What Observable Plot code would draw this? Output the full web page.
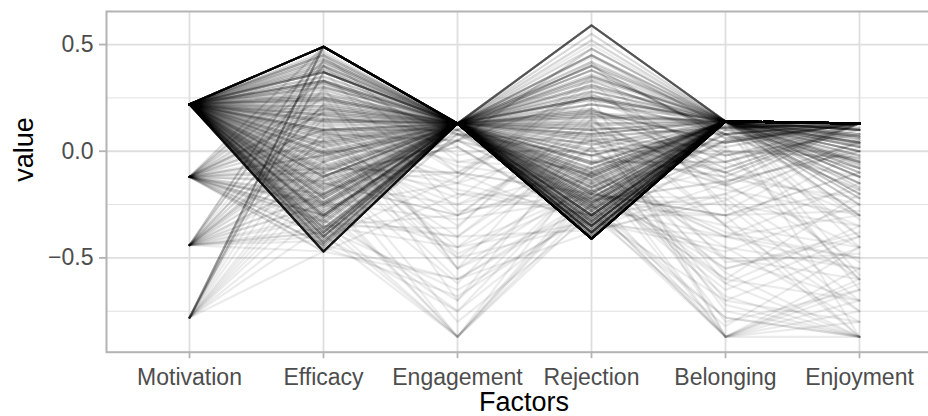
<!DOCTYPE html>
<html>
<head>
<meta charset="utf-8">
<script src="https://cdn.jsdelivr.net/npm/d3@7"></script>
<script src="https://cdn.jsdelivr.net/npm/@observablehq/plot@0.6"></script>
<style>
  html, body { margin: 0; padding: 0; background: #fff; overflow: hidden; }
  #chart svg { overflow: hidden; display: block; }
</style>
</head>
<body>
<div id="chart"></div>
<script>
const factors = ["Motivation", "Efficacy", "Engagement", "Rejection", "Belonging", "Enjoyment"];
const yTicks = [-0.5, 0, 0.5];
const yMinor = [-0.75, -0.25, 0.25];

// one entry per response profile (blocks of ten)
const motivation = [
  0.22,0.22,0.22,0.22,0.22,0.22,0.22,0.22,-0.78,-0.78,
  0.22,0.22,0.22,0.22,0.22,0.22,0.22,0.22,0.22,0.22,
  0.22,0.22,0.22,0.22,0.22,0.22,0.22,0.22,0.22,0.22,
  0.22,0.22,0.22,0.22,0.22,0.22,0.22,0.22,0.22,0.22,
  0.22,0.22,0.22,0.22,0.22,0.22,0.22,0.22,0.22,0.22,
  0.22,0.22,0.22,0.22,0.22,0.22,0.22,0.22,0.22,0.22,
  0.22,0.22,0.22,0.22,0.22,0.22,0.22,0.22,0.22,0.22,
  -0.12,-0.12,-0.12,-0.12,-0.12,-0.12,-0.12,-0.12,-0.12,-0.12,
  -0.12,-0.12,-0.12,-0.12,-0.12,-0.12,-0.12,-0.12,-0.12,-0.12,
  -0.44,-0.44,-0.44,-0.44,-0.44,-0.44,-0.44,-0.44,-0.44,-0.44,
  -0.78,-0.78,-0.78,-0.78,-0.78,-0.78,-0.78,-0.78,-0.78,-0.78,
  0.22,0.22,0.22,0.22,0.22,0.22,0.22,0.22,0.22,0.22,
  0.22,0.22,0.22,0.22,0.22,0.22,0.22,0.22,0.22,0.22,
  0.22,0.22,0.22,0.22,0.22,0.22,0.22,0.22,0.22,0.22,
  -0.12,-0.12,-0.44,-0.44,-0.78,-0.12,-0.44,-0.78,-0.12,-0.44,
  0.22,0.22,0.22,-0.12,0.22,-0.44,0.22,-0.12,0.22,-0.78,
  0.22,0.22,0.22,0.22,0.22,0.22,0.22,0.22,0.22,0.22,
  0.22,0.22,0.22,0.22,0.22,0.22,0.22,0.22,0.22,0.22,
  -0.12,-0.12,-0.12,-0.12,-0.12,-0.12,-0.12,-0.12,-0.12,-0.12,
  -0.44,-0.44,-0.44,-0.44,-0.44,-0.44,-0.44,-0.44,-0.44,-0.44,
  0.22,0.22,0.22,0.22,0.22,0.22,0.22,0.22,0.22,0.22,
  0.22,-0.12,0.22,-0.44,0.22,-0.78,0.22,0.22,-0.12,0.22,
  0.22,0.22,0.22,0.22,0.22,0.22,0.22,0.22,0.22,0.22
];
const efficacy = [
  0.49,-0.47,0.49,-0.47,0.37,0.33,0.10,-0.40,0.49,0.37,
  0.43,0.27,0.21,0.15,0.03,-0.08,-0.18,-0.26,-0.34,-0.42,
  0.46,0.40,0.30,0.24,0.18,0.06,-0.03,-0.13,-0.22,-0.30,
  0.35,0.12,-0.05,-0.16,-0.24,-0.32,-0.38,-0.44,0.20,0.00,
  0.29,0.17,0.08,-0.01,-0.11,-0.20,-0.28,-0.36,0.41,-0.45,
  0.33,0.21,0.09,-0.06,-0.15,-0.24,-0.33,-0.41,0.45,0.02,
  0.15,-0.10,-0.29,-0.39,0.05,-0.20,0.26,-0.45,-0.35,0.38,
  0.49,0.20,0.05,-0.10,-0.20,-0.30,-0.40,-0.47,0.33,-0.25,
  0.12,-0.05,-0.15,-0.35,-0.44,0.28,-0.22,0.00,-0.32,0.40,
  0.49,0.15,-0.05,-0.25,-0.38,-0.47,0.00,-0.15,0.30,-0.32,
  0.49,0.43,0.37,0.20,0.00,-0.20,-0.35,-0.47,0.10,-0.10,
  0.44,0.31,0.23,0.13,0.04,-0.07,-0.14,-0.21,-0.31,-0.43,
  0.39,0.26,0.16,0.07,-0.02,-0.12,-0.19,-0.27,-0.37,-0.46,
  0.47,0.34,0.19,0.01,-0.17,-0.23,-0.37,-0.43,0.25,-0.09,
  0.37,-0.02,0.22,-0.20,0.30,-0.38,0.05,-0.28,0.15,0.40,
  -0.12,0.08,-0.30,0.18,-0.41,0.02,0.35,-0.26,-0.05,-0.15,
  0.28,0.11,-0.04,-0.18,-0.33,0.45,-0.24,0.06,-0.40,0.32,
  0.38,0.24,0.14,0.02,-0.09,-0.17,-0.25,-0.31,-0.36,-0.43,
  0.42,0.25,0.10,-0.02,-0.14,-0.24,-0.33,-0.44,0.18,-0.08,
  0.40,0.22,0.08,-0.12,-0.20,-0.30,-0.42,0.49,0.05,-0.36,
  0.30,0.19,0.04,-0.10,-0.21,-0.29,-0.39,0.42,-0.04,0.14,
  0.00,-0.30,0.22,-0.40,-0.15,-0.05,0.40,-0.35,0.10,-0.25,
  0.45,0.32,0.25,0.17,0.09,-0.01,-0.12,-0.22,-0.30,-0.38
];
const engagement = [
  0.13,0.13,0.13,0.13,0.13,0.13,0.13,0.13,0.13,0.13,
  0.13,0.13,0.13,0.13,0.13,0.13,0.13,0.13,0.13,0.13,
  0.13,0.13,0.13,0.13,0.13,0.13,0.13,0.13,0.13,0.13,
  0.13,0.13,0.13,0.13,0.13,0.13,0.13,0.13,0.13,0.13,
  0.10,0.08,0.05,0.10,0.02,0.08,0.05,0.10,0.13,0.13,
  -0.02,-0.07,-0.12,-0.18,-0.25,-0.32,-0.40,-0.12,-0.05,-0.22,
  -0.50,-0.62,-0.75,-0.87,-0.45,-0.87,-0.55,-0.68,-0.36,-0.28,
  0.13,0.13,0.13,0.13,0.13,0.13,0.13,0.13,0.08,0.05,
  -0.05,-0.15,-0.30,-0.45,-0.60,-0.10,-0.87,-0.25,-0.70,0.02,
  0.13,0.13,0.13,0.13,0.13,-0.20,-0.40,-0.10,-0.55,-0.87,
  0.13,0.13,0.13,0.13,0.13,0.13,-0.30,-0.60,-0.15,-0.87,
  0.13,0.13,0.13,0.13,0.13,0.13,0.13,0.13,0.13,0.13,
  0.13,0.13,0.13,0.13,0.13,0.13,0.13,0.13,0.13,0.13,
  0.13,0.13,0.13,0.13,0.13,0.13,0.13,0.13,0.13,0.13,
  0.13,0.13,0.13,0.13,0.13,0.13,0.13,0.13,0.13,0.13,
  0.13,-0.35,0.13,-0.70,0.13,-0.48,0.13,-0.15,-0.80,0.13,
  0.13,0.13,0.13,0.13,0.13,0.13,0.13,0.13,0.13,0.13,
  0.13,0.13,0.13,0.13,0.13,0.13,0.13,0.13,0.13,0.13,
  0.13,0.13,0.10,0.13,0.05,0.13,0.13,0.08,0.13,-0.10,
  0.13,0.13,0.13,0.13,0.13,0.13,0.13,0.13,-0.30,-0.65,
  0.13,0.13,0.13,0.13,0.13,0.13,0.13,0.13,0.13,0.13,
  -0.60,-0.40,-0.20,-0.75,-0.30,-0.50,-0.10,-0.87,-0.55,-0.45,
  0.13,0.13,0.13,0.13,0.13,0.13,0.13,0.13,0.13,0.13
];
const rejection = [
  -0.41,-0.41,0.59,0.59,-0.35,-0.30,-0.38,-0.41,-0.41,-0.30,
  0.45,0.25,0.07,-0.17,-0.27,0.38,-0.11,0.13,-0.32,-0.22,
  0.52,0.31,0.19,0.01,-0.05,-0.22,-0.36,0.45,-0.14,-0.27,
  0.38,-0.30,0.25,0.31,-0.38,0.10,-0.20,-0.08,-0.33,0.19,
  0.22,-0.02,-0.25,0.41,-0.35,0.04,-0.11,-0.19,0.28,0.16,
  0.10,-0.15,0.28,-0.30,0.05,-0.22,-0.37,0.35,-0.08,0.20,
  -0.10,0.02,-0.25,-0.15,-0.33,-0.05,0.15,-0.28,0.24,-0.20,
  0.35,-0.20,-0.35,0.12,-0.41,0.22,-0.28,0.00,-0.12,0.48,
  0.05,-0.30,0.15,-0.18,-0.38,0.30,-0.25,-0.08,0.10,-0.33,
  -0.30,0.18,-0.38,0.40,-0.10,-0.22,0.02,-0.35,-0.15,-0.28,
  0.25,-0.38,0.10,-0.20,0.40,-0.30,-0.12,-0.25,0.05,-0.20,
  0.55,0.48,0.34,0.27,0.16,0.08,-0.02,-0.09,-0.16,-0.24,
  -0.39,-0.34,-0.29,-0.25,-0.21,-0.18,-0.13,-0.40,-0.37,-0.33,
  0.20,-0.05,0.42,-0.26,0.12,-0.36,0.30,-0.14,-0.21,0.00,
  -0.40,0.28,-0.05,-0.31,0.15,0.50,-0.19,0.36,-0.24,0.08,
  -0.03,0.18,-0.32,-0.10,0.26,-0.20,-0.12,0.33,-0.30,-0.36,
  0.05,-0.28,0.36,-0.12,0.22,-0.38,0.10,-0.20,0.44,-0.05,
  0.03,-0.12,0.33,-0.23,0.17,-0.31,0.40,-0.06,0.24,-0.17,
  -0.15,0.42,-0.32,0.06,0.26,-0.39,0.14,-0.24,-0.06,-0.20,
  0.30,-0.25,0.08,-0.41,0.45,-0.15,0.20,-0.36,-0.10,-0.30,
  -0.26,0.05,-0.34,0.18,-0.14,0.35,-0.23,-0.08,0.11,-0.37,
  -0.22,0.08,-0.30,-0.10,0.12,-0.34,0.20,-0.18,-0.26,0.02,
  -0.28,-0.38,-0.19,-0.33,-0.24,-0.40,-0.10,-0.35,-0.02,-0.26
];
const belonging = [
  0.14,0.14,0.14,0.14,0.14,0.14,0.14,0.14,0.14,0.14,
  0.14,0.14,0.11,0.14,0.14,0.08,0.14,0.14,0.14,0.14,
  0.14,0.14,0.04,0.14,-0.05,0.14,0.14,0.11,0.14,0.00,
  0.14,0.14,0.08,0.14,0.14,-0.10,0.14,0.14,0.14,0.04,
  0.14,0.11,0.14,0.14,0.14,-0.16,0.14,0.08,0.14,0.14,
  0.14,-0.05,0.14,-0.30,0.08,0.14,-0.23,0.14,0.14,-0.10,
  -0.38,-0.57,-0.87,-0.68,-0.47,-0.87,-0.16,-0.78,0.00,-0.30,
  0.14,0.14,0.14,0.14,0.14,0.11,0.14,0.04,0.14,0.14,
  -0.10,0.14,-0.35,-0.60,-0.20,0.08,-0.87,-0.45,-0.75,0.14,
  0.14,0.14,0.14,0.14,0.14,-0.25,-0.50,0.00,-0.65,-0.87,
  0.14,0.14,0.14,0.14,0.14,0.14,-0.40,-0.78,-0.10,-0.87,
  0.14,0.14,0.14,-0.02,0.14,0.14,-0.12,0.14,0.14,0.08,
  0.14,0.14,0.14,0.14,0.05,0.14,0.14,0.14,0.14,0.14,
  -0.05,-0.18,-0.28,-0.40,-0.52,0.02,-0.13,-0.62,-0.22,-0.34,
  0.14,0.14,0.14,0.14,0.14,0.14,0.04,0.14,-0.08,0.14,
  -0.72,-0.87,-0.45,-0.55,-0.87,-0.35,-0.60,-0.25,-0.82,-0.15,
  0.14,0.14,0.14,0.14,0.14,0.14,0.14,0.14,0.14,0.14,
  0.14,0.14,0.10,0.14,0.14,0.14,0.06,0.14,0.14,0.12,
  0.14,0.14,0.14,0.02,0.14,0.14,-0.15,0.14,0.14,-0.30,
  0.14,0.14,0.14,0.14,0.14,0.14,-0.05,0.14,-0.40,-0.70,
  0.05,-0.02,0.10,-0.08,0.14,0.14,-0.14,0.14,0.08,0.14,
  -0.50,-0.70,-0.20,-0.87,-0.62,-0.40,-0.35,-0.55,-0.30,-0.80,
  0.14,0.14,0.14,0.14,0.14,0.14,0.14,0.14,0.14,0.14
];
const enjoyment = [
  0.13,0.13,0.13,0.13,0.13,0.13,0.13,0.13,0.13,0.13,
  0.13,0.10,0.13,0.07,0.13,0.13,0.04,0.13,0.00,0.13,
  0.13,0.02,0.13,-0.05,0.10,0.13,-0.12,0.13,0.07,-0.03,
  0.13,0.13,-0.08,0.04,-0.17,0.13,0.00,0.10,0.13,0.13,
  0.07,0.13,0.13,-0.20,0.13,0.04,-0.07,0.13,0.13,-0.10,
  -0.15,0.13,0.02,-0.28,-0.40,0.13,0.06,-0.22,0.10,-0.35,
  -0.50,-0.87,-0.62,-0.87,-0.25,-0.75,-0.45,-0.87,-0.60,-0.18,
  0.13,0.13,0.04,0.13,0.00,0.13,-0.10,0.13,0.10,0.13,
  0.13,-0.30,-0.45,-0.70,0.02,-0.15,-0.80,-0.55,-0.87,-0.05,
  0.13,0.13,0.13,0.04,-0.05,-0.35,-0.60,-0.12,-0.40,-0.87,
  0.13,0.13,0.10,0.13,0.13,0.02,-0.50,-0.87,-0.25,-0.70,
  0.13,0.05,0.13,0.13,-0.02,0.13,0.13,-0.08,0.13,0.13,
  0.13,0.13,0.06,0.13,0.13,-0.04,0.13,0.13,0.10,0.13,
  0.13,-0.30,0.05,-0.15,-0.48,-0.60,-0.22,-0.35,-0.70,0.00,
  0.13,0.13,-0.03,0.13,0.08,0.13,0.13,-0.12,0.13,0.13,
  -0.87,-0.55,-0.80,-0.38,-0.65,-0.87,-0.20,-0.75,-0.45,-0.52,
  -0.20,-0.32,-0.45,-0.12,-0.58,-0.25,-0.40,-0.87,-0.15,-0.65,
  0.13,0.08,0.13,0.13,0.03,0.13,0.13,-0.06,0.13,0.11,
  0.13,-0.02,0.13,0.13,-0.15,0.13,0.13,0.06,-0.25,-0.10,
  0.13,0.02,0.13,0.13,-0.20,0.13,-0.30,0.10,-0.55,-0.80,
  0.13,0.08,-0.05,0.13,-0.12,-0.22,0.00,-0.30,-0.18,-0.08,
  -0.70,-0.45,-0.60,-0.60,-0.87,-0.30,-0.75,-0.40,-0.87,-0.65,
  0.13,0.13,0.13,0.13,0.13,0.13,0.13,0.13,0.13,0.13
];
// number of respondents sharing each profile
const counts = [
  30,22,10,3,8,6,6,6,3,2,
  3,3,3,3,3,3,3,3,3,3,
  2,2,2,2,2,2,2,2,2,2,
  2,2,2,2,2,2,2,2,2,2,
  2,2,2,2,2,2,2,2,2,2,
  1,1,1,1,1,1,1,1,1,1,
  1,1,1,1,1,1,1,1,1,1,
  2,2,2,2,2,2,2,2,2,2,
  1,1,1,1,1,1,1,1,1,1,
  2,2,2,2,2,1,1,1,1,1,
  3,2,2,1,1,1,1,1,1,1,
  2,2,2,2,2,2,2,2,2,2,
  2,2,2,2,2,2,2,2,2,2,
  1,1,1,1,1,1,1,1,1,1,
  1,1,1,1,1,1,1,1,1,1,
  1,1,1,1,1,1,1,1,1,1,
  1,1,1,1,1,1,1,1,1,1,
  3,3,3,3,3,3,3,3,3,3,
  2,2,2,2,2,2,2,2,2,2,
  2,2,2,2,1,1,1,1,1,1,
  2,2,2,2,2,2,2,2,2,2,
  1,1,1,1,1,1,1,1,1,1,
  3,3,3,3,3,3,3,3,3,3
];

const columns = [motivation, efficacy, engagement, rejection, belonging, enjoyment];
const long = [];
counts.forEach((n, i) => {
  for (let k = 0; k < n; k++) {
    factors.forEach((f, j) => long.push({id: i + "-" + k, factor: f, value: columns[j][i]}));
  }
});

const fmt = d3.format(".1f");
const font = "'Liberation Sans', Arial, Helvetica, sans-serif";

const chart = Plot.plot({
  width: 928,
  height: 416,
  marginLeft: 106,
  marginRight: -13,
  marginTop: 11,
  marginBottom: 64.3,
  style: {fontFamily: font, background: "#fff", overflow: "hidden"},
  x: {type: "point", domain: factors, padding: 0.6, label: null},
  y: {domain: [-0.942, 0.655], label: null},
  marks: [
    Plot.gridY(yMinor, {stroke: "#dedede", strokeWidth: 0.9, strokeOpacity: 1}),
    Plot.gridY(yTicks, {stroke: "#dedede", strokeWidth: 1.8, strokeOpacity: 1}),
    Plot.gridX(factors, {stroke: "#dedede", strokeWidth: 1.8, strokeOpacity: 1}),
    Plot.line(long, {x: "factor", y: "value", z: "id", stroke: "#000", strokeOpacity: 0.08, strokeWidth: 2.2}),
    Plot.frame({stroke: "#b3b3b3", strokeWidth: 2}),
    Plot.axisY(yTicks, {tickSize: 7, tickPadding: 6, stroke: "#b3b3b3", strokeWidth: 1.8, fill: "#4d4d4d", fontSize: 23, tickFormat: fmt}),
    Plot.axisX(factors, {tickSize: 6.5, tickPadding: 10, stroke: "#b3b3b3", strokeWidth: 1.8, fill: "#4d4d4d", fontSize: 23}),
    Plot.text(["Factors"], {frameAnchor: "bottom", dy: 50, fontSize: 27, fill: "#000", lineAnchor: "middle"}),
    Plot.text(["value"], {frameAnchor: "left", dx: -82, rotate: -90, fontSize: 27, fill: "#000", lineAnchor: "middle"})
  ]
});
document.getElementById("chart").append(chart);
</script>
</body>
</html>
